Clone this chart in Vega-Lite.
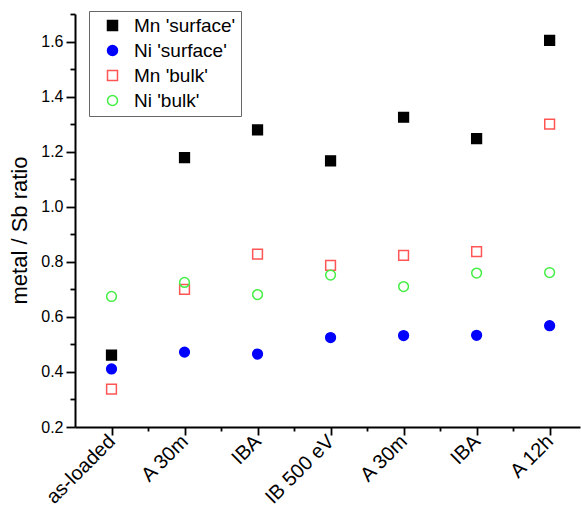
{
  "$schema": "https://vega.github.io/schema/vega-lite/v6.json",
  "autosize": "none",
  "width": 505,
  "height": 413,
  "padding": {"left": 75, "top": 14, "right": 1, "bottom": 89},
  "background": "white",
  "config": {
    "font": "Liberation Sans",
    "view": {"stroke": null},
    "axis": {"grid": false, "domainColor": "#000000", "domainWidth": 2, "tickColor": "#000000", "tickWidth": 1.8, "labelColor": "#000000", "labelFont": "Liberation Sans", "labelFontSize": 16, "titleFont": "Liberation Sans", "titleFontSize": 22, "titleFontWeight": "normal", "titleColor": "#000000"}
  },
  "data": {
    "values": [
      {"i": 0, "series": "Mn 'surface'", "v": 0.461},
      {"i": 1, "series": "Mn 'surface'", "v": 1.178},
      {"i": 2, "series": "Mn 'surface'", "v": 1.279},
      {"i": 3, "series": "Mn 'surface'", "v": 1.167},
      {"i": 4, "series": "Mn 'surface'", "v": 1.325},
      {"i": 5, "series": "Mn 'surface'", "v": 1.247},
      {"i": 6, "series": "Mn 'surface'", "v": 1.604},
      {"i": 0, "series": "Ni 'surface'", "v": 0.411},
      {"i": 1, "series": "Ni 'surface'", "v": 0.472},
      {"i": 2, "series": "Ni 'surface'", "v": 0.465},
      {"i": 3, "series": "Ni 'surface'", "v": 0.525},
      {"i": 4, "series": "Ni 'surface'", "v": 0.532},
      {"i": 5, "series": "Ni 'surface'", "v": 0.533},
      {"i": 6, "series": "Ni 'surface'", "v": 0.568},
      {"i": 0, "series": "Mn 'bulk'", "v": 0.338},
      {"i": 1, "series": "Mn 'bulk'", "v": 0.70},
      {"i": 2, "series": "Mn 'bulk'", "v": 0.828},
      {"i": 3, "series": "Mn 'bulk'", "v": 0.787},
      {"i": 4, "series": "Mn 'bulk'", "v": 0.823},
      {"i": 5, "series": "Mn 'bulk'", "v": 0.837},
      {"i": 6, "series": "Mn 'bulk'", "v": 1.30},
      {"i": 0, "series": "Ni 'bulk'", "v": 0.674},
      {"i": 1, "series": "Ni 'bulk'", "v": 0.725},
      {"i": 2, "series": "Ni 'bulk'", "v": 0.681},
      {"i": 3, "series": "Ni 'bulk'", "v": 0.752},
      {"i": 4, "series": "Ni 'bulk'", "v": 0.710},
      {"i": 5, "series": "Ni 'bulk'", "v": 0.759},
      {"i": 6, "series": "Ni 'bulk'", "v": 0.761}
    ]
  },
  "mark": {"type": "point", "size": 95, "strokeWidth": 1.5, "opacity": 1},
  "encoding": {
    "x": {
      "field": "i", "type": "quantitative",
      "scale": {"domain": [-0.5, 6.416], "nice": false, "zero": false},
      "axis": {
        "title": null,
        "values": [0, 0.5, 1, 1.5, 2, 2.5, 3, 3.5, 4, 4.5, 5, 5.5, 6],
        "labelExpr": "datum.value % 1 === 0 ? ['as-loaded','A 30m','IBA','IB 500 eV','A 30m','IBA','A 12h'][datum.value] : ''",
        "labelAngle": -45,
        "labelAlign": "right",
        "labelBaseline": "middle",
        "labelFontSize": 20,
        "labelPadding": 3,
        "labelOverlap": false,
        "labelFlush": false,
        "tickSize": {"condition": {"test": "datum.value % 1 === 0", "value": 8}, "value": 4}
      }
    },
    "y": {
      "field": "v", "type": "quantitative",
      "scale": {"domain": [0.2, 1.7], "nice": false, "zero": false},
      "axis": {
        "title": "metal / Sb ratio",
        "titlePadding": 9,
        "titleY": 216,
        "values": [0.2, 0.3, 0.4, 0.5, 0.6, 0.7, 0.8, 0.9, 1.0, 1.1, 1.2, 1.3, 1.4, 1.5, 1.6, 1.7],
        "labelExpr": "round(datum.value * 10) % 2 === 0 ? format(datum.value, '.1f') : ''",
        "labelPadding": 3,
        "labelOverlap": false,
        "labelFlush": false,
        "tickSize": {"condition": {"test": "round(datum.value * 10) % 2 === 0", "value": 9}, "value": 5}
      }
    },
    "shape": {
      "field": "series", "type": "nominal",
      "scale": {"domain": ["Mn 'surface'", "Ni 'surface'", "Mn 'bulk'", "Ni 'bulk'"], "range": ["square", "circle", "square", "circle"]},
      "legend": {
        "title": null, "orient": "none", "legendX": 14, "legendY": -3,
        "strokeColor": "#666666", "padding": 5, "symbolOffset": 9,
        "labelFontSize": 19, "labelFont": "Liberation Sans", "labelColor": "#000000",
        "labelOffset": 12, "rowPadding": 5, "symbolSize": 100, "symbolStrokeWidth": 1.5
      }
    },
    "fill": {
      "field": "series", "type": "nominal",
      "scale": {"domain": ["Mn 'surface'", "Ni 'surface'", "Mn 'bulk'", "Ni 'bulk'"], "range": ["#000000", "#0000ff", "transparent", "transparent"]}
    },
    "stroke": {
      "field": "series", "type": "nominal",
      "scale": {"domain": ["Mn 'surface'", "Ni 'surface'", "Mn 'bulk'", "Ni 'bulk'"], "range": ["#000000", "#0000ff", "#ff5555", "#44ee44"]}
    }
  }
}
